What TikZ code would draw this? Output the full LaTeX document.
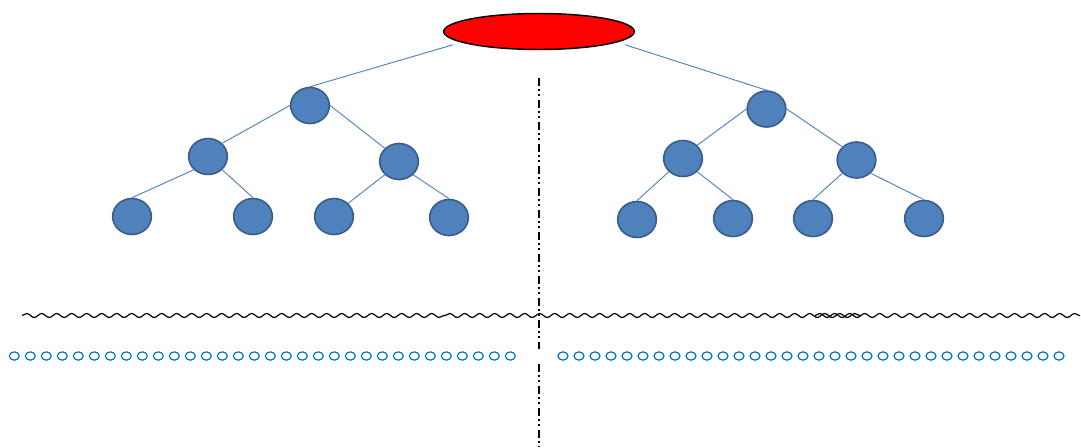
\documentclass[tikz,border=0pt]{standalone}
\usetikzlibrary{shapes.geometric,decorations.pathmorphing}
\definecolor{nodeblue}{HTML}{4F81BD}
\definecolor{nodeline}{HTML}{385D8A}
\definecolor{ringblue}{HTML}{0070C0}
\tikzset{
	leaf/.style={ellipse,fill=nodeblue,draw=nodeline,line width=1.2pt,minimum width=29pt,minimum height=27pt,inner sep=0pt},
	edge/.style={draw=nodeblue,line width=0.7pt},
	wave/.style={decorate,decoration={snake,segment length=11.25pt,amplitude=1.5pt},line width=0.9pt},
	ring/.style={draw=ringblue,line width=0.9pt},
	divider/.style={line width=1.5pt,dash pattern=on 6pt off 2.25pt on 1.5pt off 2.25pt on 1.5pt off 3pt}
}

\begin{document}
\begin{tikzpicture}[x=0.75pt,y=-0.75pt]
	\useasboundingbox (0,0) rectangle (1081,447);

	\node[ellipse,fill=red,draw,line width=1.1pt,minimum width=143pt,minimum height=27pt](top) at (539,31.5){};

	\node[leaf](lroot) at (310,105.5){};
	\node[leaf](lleft) at (208,156.5){};
	\node[leaf](lright) at (399,161.5){};
	\node[leaf](la) at (132,216.5){};
	\node[leaf](lb) at (253,216.5){};
	\node[leaf](lc) at (334,216.5){};
	\node[leaf](ld) at (449,217.5){};

	\node[leaf](rroot) at (766.5,109){};
	\node[leaf](rleft) at (683,158.5){};
	\node[leaf](rright) at (856.5,160){};
	\node[leaf](ra) at (637,219.5){};
	\node[leaf](rb) at (733,218.5){};
	\node[leaf](rc) at (813,218.5){};
	\node[leaf](rd) at (924,218.5){};

	\draw[edge]([xshift=-13.5pt]top.south west) -- (lroot.north);
	\draw[edge]([xshift=13.5pt]top.south east) -- (rroot.north);
	\draw[edge](lroot.west) -- (lleft.north east);
	\draw[edge](lroot.east) -- (lright.north west);
	\draw[edge](lleft.south west) -- (la.north);
	\draw[edge](lleft.south east) -- (lb.north);
	\draw[edge](lright.south west) -- (lc.north east);
	\draw[edge](lright.south east) -- (ld.north);
	\draw[edge](rroot.west) -- (rleft.north east);
	\draw[edge](rroot.east) -- (rright.north west);
	\draw[edge](rleft.south west) -- (ra.north);
	\draw[edge](rleft.south east) -- (rb.north);
	\draw[edge](rright.south west) -- (rc.north);
	\draw[edge](rright.south east) -- (rd.north);

	\draw[wave](22,315.5) -- (446,315.5);
	\draw[wave](445,315.5) -- (860,315.5);
	\draw[wave](815,315.5) -- (1080,315.5);

	\foreach \i in {0,...,31}{
		\draw[ring](14.3+16*\i,356) ellipse[x radius=3.75pt,y radius=3.1pt];
		\draw[ring](563+16*\i,356) ellipse[x radius=3.75pt,y radius=3.1pt];
	}

	\draw[divider](539,78) -- (539,349);
	\draw[divider](539,364) -- (539,447);
\end{tikzpicture}
\end{document}
